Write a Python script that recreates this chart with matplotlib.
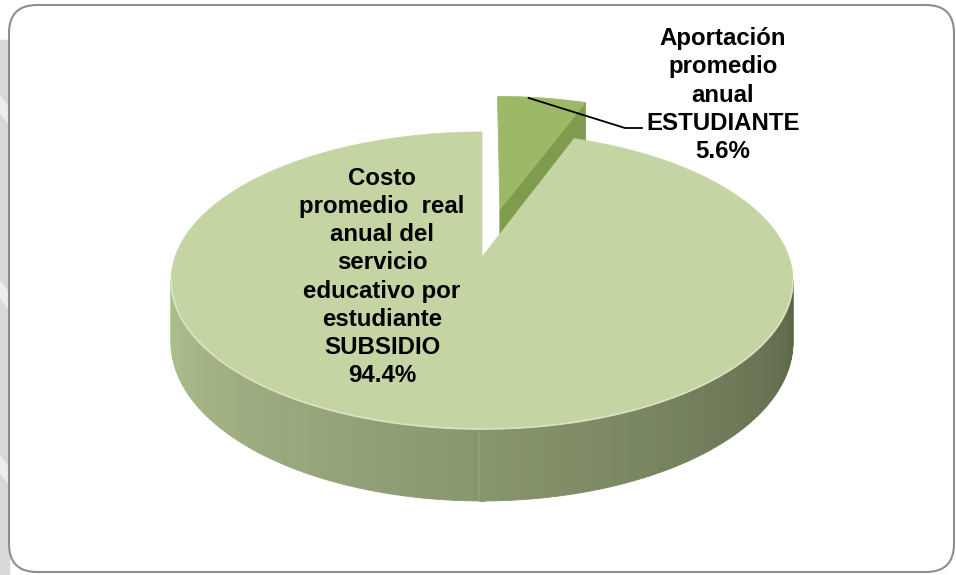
import numpy as np
import matplotlib
matplotlib.use("Agg")
import matplotlib.pyplot as plt
from matplotlib.patches import Polygon, FancyBboxPatch

# datos (Excel empieza a las 12 en sentido horario)
etiquetas = ["Aportación\npromedio\nanual\nESTUDIANTE",
             "Costo\npromedio  real\nanual del\nservicio\neducativo por\nestudiante\nSUBSIDIO"]
valores = [5.6, 94.4]
separacion = [0.35, 0.0]
colores_cara = ["#9DB866", "#C4D5A3"]
colores_corte = ["#7F9B4D", "#A9B98C"]

# proyeccion del pastel 3D (pixeles)
X0, Y0 = 482, 257
A, B, H, K = 307, 144.8, 60.6, 0.158


def proyectar(x, y, z=0.0):
    w = 1 + K * y
    return X0 + A * x / w, Y0 - (B * y + H * z) / w


def mezclar(c1, c2, f):
    c1 = np.array(matplotlib.colors.to_rgb(c1))
    c2 = np.array(matplotlib.colors.to_rgb(c2))
    return tuple(c1 + (c2 - c1) * f)


fig = plt.figure(figsize=(9.56, 5.75), dpi=100)
ax = fig.add_axes([0, 0, 1, 1])
ax.set_xlim(0, 956)
ax.set_ylim(575, 0)
ax.axis("off")

# fondo / marco
ax.add_patch(plt.Rectangle((0, 40), 9, 535, color="#d9d9d9", zorder=0))
for y0 in [95, 280, 455]:
    ax.add_patch(Polygon([(0, y0), (9, y0 + 12), (9, y0 + 30), (0, y0 + 18)],
                         closed=True, color="#eeeeee", lw=0, zorder=0))
marco = FancyBboxPatch((9, 5), 945, 567, boxstyle="round,pad=0,rounding_size=28",
                       facecolor="white", edgecolor="#8e8e8e", lw=1.5, zorder=1)
ax.add_patch(marco)

total = sum(valores)
angulos = []
acum = 0
for v in valores:
    a1 = 90 - acum / total * 360
    acum += v
    a2 = 90 - acum / total * 360
    angulos.append((a1, a2))


def desplazamiento(i):
    a1, a2 = angulos[i]
    m = np.radians((a1 + a2) / 2)
    return separacion[i] * np.cos(m), separacion[i] * np.sin(m)


def cara_superior(i):
    a1, a2 = angulos[i]
    dx, dy = desplazamiento(i)
    t = np.radians(np.linspace(a1, a2, 200))
    pts = [proyectar(dx, dy)]
    pts += [proyectar(dx + np.cos(s), dy + np.sin(s)) for s in t]
    return pts


# rebanada pequena (atras): cara de corte y cara superior
dx, dy = desplazamiento(0)
a2 = np.radians(angulos[0][1])
corte = [proyectar(dx, dy, 0), proyectar(dx + np.cos(a2), dy + np.sin(a2), 0),
         proyectar(dx + np.cos(a2), dy + np.sin(a2), -1), proyectar(dx, dy, -1)]
ax.add_patch(Polygon(corte, closed=True, facecolor=colores_corte[0],
                     edgecolor=colores_corte[0], lw=0.5, zorder=2))
ax.add_patch(Polygon(cara_superior(0), closed=True, facecolor=colores_cara[0],
                     edgecolor=colores_cara[0], lw=0.5, zorder=3))

# pared frontal de la rebanada grande con degradado
t1 = np.pi + np.arcsin(K)
t2 = 2 * np.pi - np.arcsin(K)
ts = np.linspace(t1, t2, 160)
for j in range(len(ts) - 1):
    p = [proyectar(np.cos(ts[j]), np.sin(ts[j]), 0),
         proyectar(np.cos(ts[j + 1]), np.sin(ts[j + 1]), 0),
         proyectar(np.cos(ts[j + 1]), np.sin(ts[j + 1]), -1),
         proyectar(np.cos(ts[j]), np.sin(ts[j]), -1)]
    f = j / (len(ts) - 2)
    if f < 0.5:
        col = mezclar("#B0C18F", "#88966F", f / 0.5)
    else:
        col = mezclar("#88966F", "#5A6546", (f - 0.5) / 0.5)
    ax.add_patch(Polygon(p, closed=True, facecolor=col, edgecolor=col,
                         lw=0.6, zorder=4))

ax.add_patch(Polygon(cara_superior(1), closed=True, facecolor=colores_cara[1],
                     edgecolor=colores_cara[1], lw=0.5, zorder=5))
borde = [proyectar(np.cos(s), np.sin(s)) for s in np.linspace(t1, t2, 200)]
ax.plot([p[0] for p in borde], [p[1] for p in borde], color="#D9E4C3",
        lw=1.2, zorder=6)

fuente = dict(family="Liberation Sans", weight="bold", size=17.3,
              color="black", ha="center", va="center", linespacing=1.29)

# etiqueta de la rebanada grande
ax.text(382, 277, f"{etiquetas[1]}\n{valores[1]:.1f}%", zorder=7, **fuente)

# etiqueta de la rebanada pequena con linea guia
ax.text(723, 95, f"{etiquetas[0]}\n{valores[0]:.1f}%", zorder=7, **fuente)
m = np.radians(sum(angulos[0]) / 2)
x_ini, y_ini = proyectar(dx + 0.7 * np.cos(m) + 0.3 * np.cos(np.radians(90)),
                         dy + np.sin(m))
ax.plot([x_ini, 625, 642], [y_ini, 128, 128], color="black", lw=1.3, zorder=8)

fig.savefig("out.png", dpi=100)
